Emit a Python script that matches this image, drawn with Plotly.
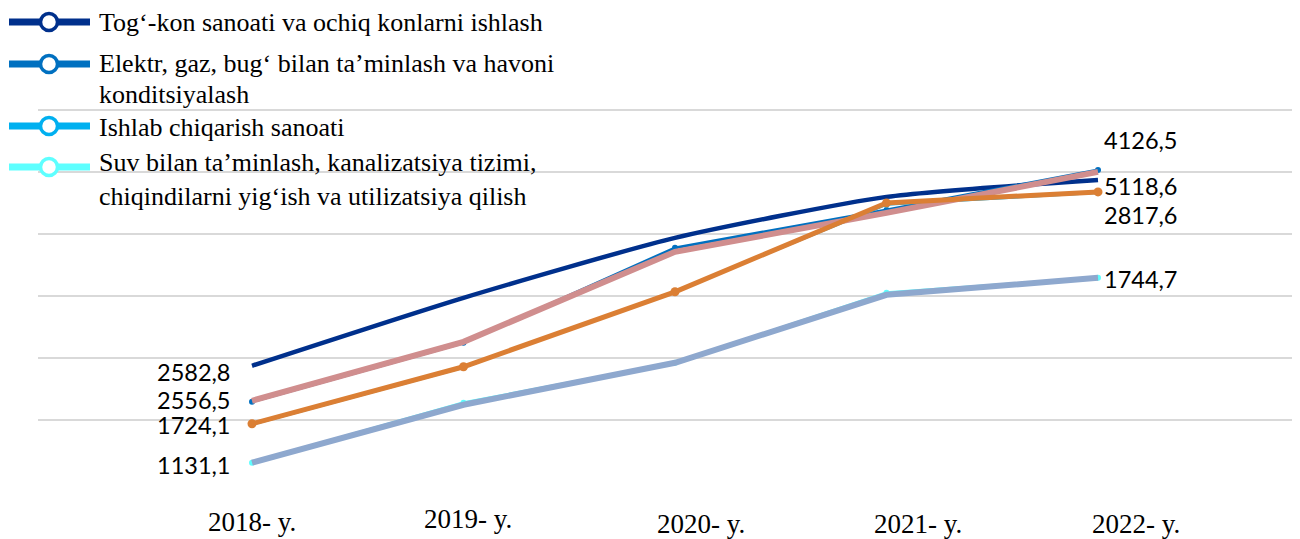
import plotly.graph_objects as go

# kategoriyalar (yillar)
yillar = ["2018- y.", "2019- y.", "2020- y.", "2021- y.", "2022- y."]

# chiziqlarning vertikal holati (o'qda shkala yo'q, rasmdan o'qilgan)
tog_kon = [1871, 2968, 3935, 4597, 4871]
elektr = [1290, 2242, 3774, 4387, 5032]
ishlab = [919, 1839, 3065, 4468, 4661]
suv = [306, 1274, 1919, 3048, 3290]

# ustiga tushib qolgan qo'shimcha chiziqlar (legendasiz)
ustki_pushti = [1306, 2258, 3710, 4339, 5000]
ustki_sariq = [935, 1855, 3065, 4500, 4677]
ustki_kulrang = [306, 1242, 1919, 3016, 3290]

# ma'lumot yorliqlari
yorliq_boshi = ["2582,8", "2556,5", "1724,1", "1131,1"]
yorliq_oxiri = ["5118,6", "4126,5", "2817,6", "1744,7"]

nomlar = [
    "Tog‘-kon sanoati va ochiq konlarni ishlash",
    "Elektr, gaz, bug‘ bilan ta’minlash va havoni<br>konditsiyalash",
    "Ishlab chiqarish sanoati",
    "Suv bilan ta’minlash, kanalizatsiya tizimi,<br>chiqindilarni yig‘ish va utilizatsiya qilish",
]
ranglar = ["#00308C", "#0070C0", "#00B0F0", "#5EFFFF"]

# sahifa chetidagi 8px body margin hisobga olinadi
OFF = 8
W, H = 1300 - OFF, 539 - OFF
L, R, T, B = 38 - OFF, 0, 54 - OFF, 57


def px(x):
    # rasmdagi piksel -> paper
    return (x - OFF - L) / (W - L - R)


def py(y):
    return (H - B - (y - OFF)) / (H - T - B)


x = list(range(len(yillar)))
fig = go.Figure()

asosiy = [tog_kon, elektr, ishlab, suv]
qalinlik = [4.5, 3, 2, 3]
for i, seriya in enumerate(asosiy):
    fig.add_trace(go.Scatter(
        x=x, y=seriya, mode="lines" if i == 0 else "lines+markers",
        line=dict(color=ranglar[i], width=qalinlik[i], shape="spline" if i == 0 else "linear",
                  smoothing=0.6),
        marker=dict(size=6, color=ranglar[i]),
        showlegend=False, hoverinfo="skip",
    ))

fig.add_trace(go.Scatter(x=x, y=ustki_pushti, mode="lines",
                         line=dict(color="#D08E8E", width=6), showlegend=False))
fig.add_trace(go.Scatter(x=x, y=ustki_sariq, mode="lines+markers",
                         line=dict(color="#DB7F34", width=5),
                         marker=dict(size=9, color="#DB7F34"), showlegend=False))
fig.add_trace(go.Scatter(x=x, y=ustki_kulrang, mode="lines",
                         line=dict(color="#8EA8CE", width=6), showlegend=False))

# yorliqlar
annots = []
yorliq_font = dict(family="Lato", size=23.5, color="black")
bosh_siljish = [-6, 2, 0, -2]
oxir_siljish = [-6, 30, -22, -1]
for i, seriya in enumerate(asosiy):
    annots.append(dict(x=0, y=seriya[0], xref="x", yref="y", text=yorliq_boshi[i],
                       xanchor="right", yanchor="middle", xshift=-20, yshift=bosh_siljish[i],
                       showarrow=False, font=yorliq_font))
    annots.append(dict(x=4, y=seriya[-1], xref="x", yref="y", text=yorliq_oxiri[i],
                       xanchor="left", yanchor="middle", xshift=4, yshift=oxir_siljish[i],
                       showarrow=False, font=yorliq_font))

# x o'qi yozuvlari
tick_dx = [0, 4, 26, 31, 38]
tick_y = [522, 519, 524, 524, 524]
for i, t in enumerate(yillar):
    annots.append(dict(x=i, y=py(tick_y[i]), xref="x", yref="paper", text=t,
                       xanchor="center", yanchor="middle", xshift=tick_dx[i], showarrow=False,
                       font=dict(family="Liberation Serif", size=27, color="black")))

# legenda (qo'lda chizilgan)
shapes = []
leg_y = [22, 64, 126, 167]
matn_y = [[23], [64, 94], [127], [163, 196]]
for i, nom in enumerate(nomlar):
    shapes.append(dict(type="line", xref="paper", yref="paper",
                       x0=px(9), x1=px(90), y0=py(leg_y[i]), y1=py(leg_y[i]),
                       line=dict(color=ranglar[i], width=7)))
    shapes.append(dict(type="circle", xref="paper", yref="paper",
                       xsizemode="pixel", ysizemode="pixel",
                       xanchor=px(49), yanchor=py(leg_y[i]),
                       x0=-8.5, x1=8.5, y0=-8.5, y1=8.5,
                       fillcolor="white", line=dict(color=ranglar[i], width=3.5)))
    for qator, yy in zip(nom.split("<br>"), matn_y[i]):
        annots.append(dict(x=px(97), y=py(yy), xref="paper", yref="paper", text=qator,
                           xanchor="left", yanchor="middle", align="left", showarrow=False,
                           font=dict(family="Liberation Serif", size=26, color="black")))

fig.update_layout(
    width=W, height=H,
    margin=dict(l=L, r=R, t=T, b=B),
    plot_bgcolor="white", paper_bgcolor="white",
    xaxis=dict(range=[-(252 - 38) / 211.5, 4 + (1300 - 1098) / 211.5], showgrid=False,
               showticklabels=False, zeroline=False, showline=False),
    yaxis=dict(range=[-5, (H - T - B) / 62 * 1000], dtick=1000, tick0=0, showgrid=True,
               gridcolor="#D9D9D9", gridwidth=1.5, showticklabels=False, zeroline=False),
    annotations=annots, shapes=shapes,
)

fig.write_html("out.html")
